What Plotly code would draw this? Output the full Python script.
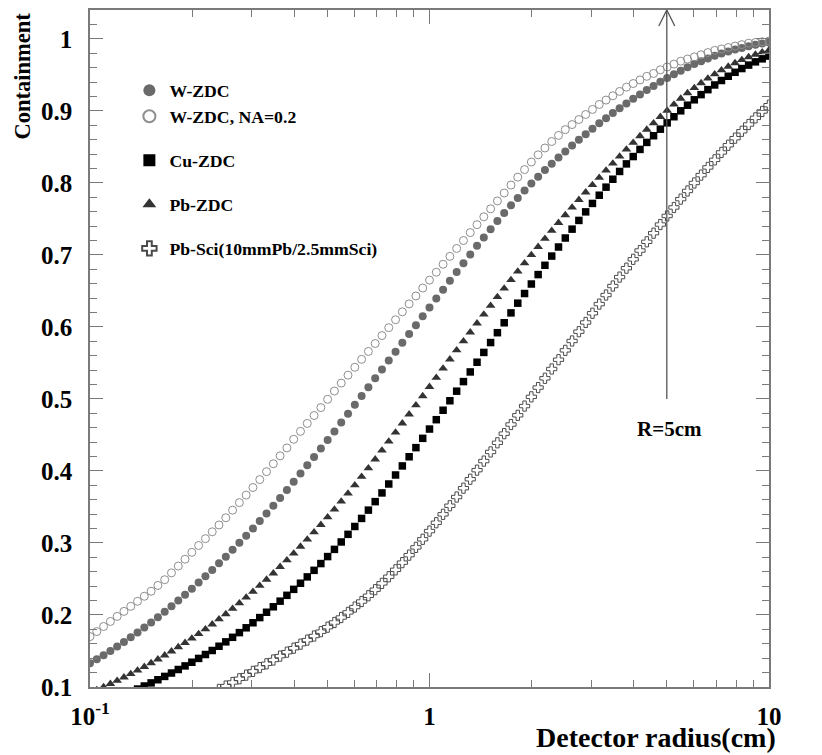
import plotly.graph_objects as go

# Detector radius (cm): 50 log-spaced samples per decade, 0.1 .. 10
radius_cm = [
    0.1, 0.10471, 0.10965, 0.11482, 0.12023, 0.12589, 0.13183, 0.13804, 0.14454, 0.15136,
    0.15849, 0.16596, 0.17378, 0.18197, 0.19055, 0.19953, 0.20893, 0.21878, 0.22909, 0.23988,
    0.25119, 0.26303, 0.27542, 0.2884, 0.302, 0.31623, 0.33113, 0.34674, 0.36308, 0.38019,
    0.39811, 0.41687, 0.43652, 0.45709, 0.47863, 0.50119, 0.52481, 0.54954, 0.57544, 0.60256,
    0.63096, 0.66069, 0.69183, 0.72444, 0.75858, 0.79433, 0.83176, 0.87096, 0.91201, 0.95499,
    1.0, 1.0471, 1.0965, 1.1482, 1.2023, 1.2589, 1.3183, 1.3804, 1.4454, 1.5136,
    1.5849, 1.6596, 1.7378, 1.8197, 1.9055, 1.9953, 2.0893, 2.1878, 2.2909, 2.3988,
    2.5119, 2.6303, 2.7542, 2.884, 3.02, 3.1623, 3.3113, 3.4674, 3.6308, 3.8019,
    3.9811, 4.1687, 4.3652, 4.5709, 4.7863, 5.0119, 5.2481, 5.4954, 5.7544, 6.0256,
    6.3096, 6.6069, 6.9183, 7.2444, 7.5858, 7.9433, 8.3176, 8.7096, 9.1201, 9.5499,
    10.0,
]

w_zdc = [
    0.1330, 0.1385, 0.1442, 0.1501, 0.1562, 0.1625, 0.1690, 0.1757, 0.1826, 0.1897,
    0.1970, 0.2045, 0.2122, 0.2201, 0.2282, 0.2365, 0.2450, 0.2537, 0.2626, 0.2717,
    0.2810, 0.2905, 0.3002, 0.3101, 0.3202, 0.3305, 0.3410, 0.3517, 0.3626, 0.3737,
    0.3850, 0.3964, 0.4079, 0.4195, 0.4312, 0.4430, 0.4549, 0.4672, 0.4795, 0.4918,
    0.5041, 0.5164, 0.5287, 0.5410, 0.5533, 0.5656, 0.5779, 0.5902, 0.6025, 0.6148,
    0.6271, 0.6394, 0.6517, 0.6640, 0.6763, 0.6886, 0.7007, 0.7126, 0.7243, 0.7358,
    0.7471, 0.7581, 0.7688, 0.7792, 0.7893, 0.7991, 0.8086, 0.8178, 0.8267, 0.8353,
    0.8437, 0.8519, 0.8599, 0.8677, 0.8753, 0.8827, 0.8899, 0.8969, 0.9037, 0.9103,
    0.9167, 0.9229, 0.9289, 0.9347, 0.9403, 0.9457, 0.9509, 0.9559, 0.9606, 0.9650,
    0.9691, 0.9729, 0.9764, 0.9796, 0.9825, 0.9851, 0.9875, 0.9897, 0.9917, 0.9935,
    0.9951,
]

w_zdc_na = [
    0.170, 0.177, 0.184, 0.191, 0.198, 0.205, 0.212, 0.219, 0.226, 0.233,
    0.241, 0.249, 0.2585, 0.268, 0.2775, 0.287, 0.2965, 0.306, 0.3155, 0.325,
    0.335, 0.3455, 0.356, 0.3665, 0.377, 0.388, 0.399, 0.410, 0.421, 0.432,
    0.444, 0.455, 0.466, 0.477, 0.488, 0.4995, 0.511, 0.522, 0.533, 0.544,
    0.555, 0.566, 0.577, 0.588, 0.599, 0.610, 0.621, 0.632, 0.643, 0.654,
    0.665, 0.676, 0.687, 0.698, 0.709, 0.720, 0.731, 0.742, 0.753, 0.764,
    0.775, 0.786, 0.797, 0.808, 0.8185, 0.829, 0.839, 0.8485, 0.8575, 0.866,
    0.874, 0.881, 0.888, 0.895, 0.902, 0.909, 0.915, 0.921, 0.927, 0.933,
    0.938, 0.943, 0.948, 0.952, 0.957, 0.961, 0.965, 0.969, 0.972, 0.975,
    0.978, 0.981, 0.984, 0.986, 0.988, 0.990, 0.992, 0.994, 0.995, 0.996,
    0.997,
]

pb_zdc = [
    0.0920, 0.0960, 0.1001, 0.1044, 0.1088, 0.1134, 0.1181, 0.1230, 0.1280, 0.1332,
    0.1385, 0.1440, 0.1496, 0.1554, 0.1613, 0.1674, 0.1737, 0.1803, 0.1871, 0.1941,
    0.2013, 0.2087, 0.2164, 0.2243, 0.2324, 0.2407, 0.2492, 0.2579, 0.2669, 0.2761,
    0.2855, 0.2951, 0.3049, 0.3150, 0.3253, 0.3358, 0.3466, 0.3576, 0.3688, 0.3803,
    0.3920, 0.4039, 0.4161, 0.4285, 0.4410, 0.4535, 0.4661, 0.4787, 0.4913, 0.5040,
    0.5168, 0.5296, 0.5424, 0.5551, 0.5677, 0.5802, 0.5926, 0.6050, 0.6173, 0.6295,
    0.6416, 0.6535, 0.6653, 0.6770, 0.6886, 0.7000, 0.7113, 0.7225, 0.7336, 0.7445,
    0.7553, 0.7660, 0.7765, 0.7869, 0.7972, 0.8073, 0.8173, 0.8271, 0.8368, 0.8464,
    0.8558, 0.8650, 0.8741, 0.8830, 0.8918, 0.9005, 0.9090, 0.9171, 0.9247, 0.9319,
    0.9387, 0.9451, 0.9510, 0.9565, 0.9616, 0.9664, 0.9707, 0.9747, 0.9783, 0.9816,
    0.9845,
]

# Cu-ZDC starts at r = 0.126 cm (earlier points are below the frame)
cu_zdc = [
    0.0893, 0.0932, 0.0972, 0.1014, 0.1057, 0.1101, 0.1147, 0.1194, 0.1243, 0.1293,
    0.1344, 0.1397, 0.1451, 0.1507, 0.1566, 0.1627, 0.1690, 0.1755, 0.1822, 0.1892,
    0.1964, 0.2038, 0.2114, 0.2192, 0.2273, 0.2356, 0.2441, 0.2529, 0.2620, 0.2714,
    0.2811, 0.2911, 0.3014, 0.3120, 0.3229, 0.3341, 0.3456, 0.3574, 0.3695, 0.3819,
    0.3944, 0.4070, 0.4197, 0.4324, 0.4453, 0.4582, 0.4712, 0.4843, 0.4975, 0.5108,
    0.5241, 0.5375, 0.5510, 0.5646, 0.5783, 0.5920, 0.6058, 0.6195, 0.6330, 0.6464,
    0.6596, 0.6727, 0.6856, 0.6984, 0.7110, 0.7235, 0.7358, 0.7479, 0.7598, 0.7715,
    0.7829, 0.7941, 0.8051, 0.8159, 0.8264, 0.8366, 0.8465, 0.8562, 0.8655, 0.8746,
    0.8834, 0.8919, 0.9001, 0.9079, 0.9154, 0.9226, 0.9295, 0.9360, 0.9422, 0.9481,
    0.9536, 0.9588, 0.9636, 0.9681, 0.9723, 0.9761,
]

# Pb-Sci starts at r = 0.229 cm
pb_sci = [
    0.0919, 0.0966, 0.1013, 0.1063, 0.1114, 0.1165, 0.1217, 0.1269, 0.1322, 0.1375,
    0.1429, 0.1484, 0.1539, 0.1595, 0.1651, 0.1708, 0.1768, 0.1831, 0.1896, 0.1965,
    0.2036, 0.2110, 0.2187, 0.2267, 0.2351, 0.2439, 0.2531, 0.2627, 0.2727, 0.2831,
    0.2939, 0.3051, 0.3165, 0.3281, 0.3398, 0.3517, 0.3638, 0.3761, 0.3885, 0.4011,
    0.4137, 0.4264, 0.4391, 0.4518, 0.4645, 0.4773, 0.4901, 0.5029, 0.5158, 0.5287,
    0.5416, 0.5545, 0.5675, 0.5805, 0.5934, 0.6062, 0.6190, 0.6317, 0.6443, 0.6568,
    0.6692, 0.6816, 0.6939, 0.7061, 0.7182, 0.7302, 0.7422, 0.7541, 0.7659, 0.7775,
    0.7888, 0.7999, 0.8108, 0.8215, 0.8320, 0.8423, 0.8523, 0.8621, 0.8717, 0.8811,
    0.8903, 0.8992, 0.9079,
]

series_names = ["W-ZDC", "W-ZDC, NA=0.2", "Cu-ZDC", "Pb-ZDC", "Pb-Sci(10mmPb/2.5mmSci)"]

y_tick_vals = [0.1, 0.2, 0.3, 0.4, 0.5, 0.6, 0.7, 0.8, 0.9, 1.0]
y_tick_text = ["0.1", "0.2", "0.3", "0.4", "0.5", "0.6", "0.7", "0.8", "0.9", "1"]
x_tick_vals = [0.1, 1, 10]
x_tick_text = ["10<sup>-1</sup>", "1", "10"]
x_minor_vals = [0.2, 0.3, 0.4, 0.5, 0.6, 0.7, 0.8, 0.9, 2, 3, 4, 5, 6, 7, 8, 9]

Y_RANGE = [0.1, 1.0401]
R_MARK = 5.0
R_LINE_BOTTOM = 0.5

FONT = "Liberation Serif"
AXIS_GRAY = "#7a7a7a"

fig = go.Figure()

styles = [
    dict(symbol="circle", size=8, color="#6a6a6a", line=dict(width=0)),
    dict(symbol="circle-open", size=8, color="#8e8e8e", line=dict(width=1)),
    dict(symbol="square", size=7.5, color="#000000", line=dict(width=0)),
    dict(symbol="triangle-up", size=8.5, color="#333333", line=dict(width=0)),
    dict(symbol="cross-open", size=8.5, color="#4a4a4a", line=dict(width=1)),
]
data = [w_zdc, w_zdc_na, cu_zdc, pb_zdc, pb_sci]
groups = ["g1", "g1", "g2", "g3", "g4"]

for name, ys, st, g in zip(series_names, data, styles, groups):
    xs = radius_cm[len(radius_cm) - len(ys):]
    fig.add_trace(go.Scatter(x=xs, y=ys, mode="markers", name=name,
                             marker=st, legendgroup=g))

tick_font = dict(family=FONT, size=25, weight="bold", color="black")

fig.update_layout(
    width=814, height=747,
    margin=dict(l=82, r=53, t=0, b=68),
    paper_bgcolor="white", plot_bgcolor="white",
    font=dict(family=FONT, color="black"),
    showlegend=True,
    legend=dict(x=0.058, y=0.908, xanchor="left", yanchor="top",
                font=dict(family=FONT, size=17.7, weight="bold"),
                bgcolor="rgba(0,0,0,0)", tracegroupgap=18, itemsizing="constant"),
    xaxis=dict(type="log", range=[-1, 1], tickvals=x_tick_vals, ticktext=x_tick_text,
               ticks="inside", ticklen=14, tickwidth=1.2, tickcolor=AXIS_GRAY,
               showline=True, linecolor=AXIS_GRAY, linewidth=1.5, mirror="ticks",
               showgrid=False, zeroline=False, ticklabelstandoff=6,
               tickfont=tick_font,
               minor=dict(tickvals=x_minor_vals, ticks="inside", ticklen=7,
                          tickcolor=AXIS_GRAY, tickwidth=1.2, showgrid=False)),
    yaxis=dict(range=Y_RANGE, tickvals=y_tick_vals, ticktext=y_tick_text,
               ticks="inside", ticklen=13, tickwidth=1.2, tickcolor=AXIS_GRAY,
               showline=True, linecolor=AXIS_GRAY, linewidth=1.5, mirror="ticks",
               showgrid=False, zeroline=False, ticklabelstandoff=11,
               tickfont=tick_font,
               minor=dict(dtick=0.02, tick0=0, ticks="inside", ticklen=7,
                          tickcolor=AXIS_GRAY, tickwidth=1.2, showgrid=False)),
    yaxis2=dict(range=Y_RANGE, overlaying="y", side="right", anchor="x",
                tickvals=y_tick_vals, ticktext=y_tick_text,
                ticks="inside", ticklen=13, tickwidth=1.2, tickcolor=AXIS_GRAY,
                showline=True, linecolor=AXIS_GRAY, linewidth=1.5,
                showgrid=False, zeroline=False, ticklabelstandoff=11,
                tickfont=tick_font,
                minor=dict(dtick=0.02, tick0=0, ticks="inside", ticklen=7,
                           tickcolor=AXIS_GRAY, tickwidth=1.2, showgrid=False)),
)

# R = 5 cm marker line with open arrow head
fig.add_shape(type="line", xref="x", yref="y", x0=R_MARK, x1=R_MARK,
              y0=R_LINE_BOTTOM, y1=Y_RANGE[1], line=dict(color="#555555", width=1.3))
fig.add_shape(type="path", xref="x", yref="y", xsizemode="pixel", ysizemode="pixel",
              xanchor=R_MARK, yanchor=Y_RANGE[1],
              path="M -8,-16 L 0,0 L 8,-16", line=dict(color="#555555", width=1.3))
fig.add_annotation(x=0.706, y=0.458, xref="x", yref="y", text="<b>R=5cm</b>",
                   showarrow=False, font=dict(family=FONT, size=21, color="black"))

# axis titles
fig.add_annotation(x=1.0133, y=-0.0740, xref="paper", yref="paper", xanchor="right",
                   yanchor="middle", text="<b>Detector radius(cm)</b>", showarrow=False,
                   font=dict(family=FONT, size=28, color="black"))
fig.add_annotation(x=-0.100, y=0.902, xref="paper", yref="paper", textangle=-90,
                   xanchor="center", yanchor="middle", text="<b>Containment</b>",
                   showarrow=False, font=dict(family=FONT, size=22.5, color="black"))

fig.write_html("out.html")
